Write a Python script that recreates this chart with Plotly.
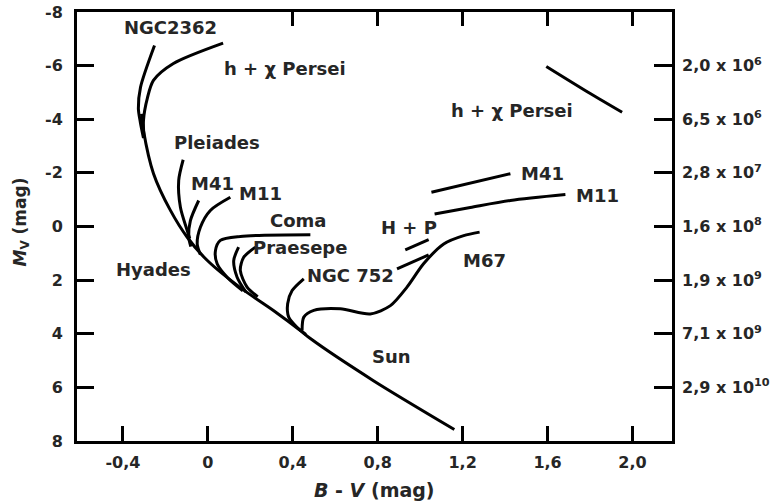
import plotly.graph_objects as go

# ---------------- data (B-V, M_V) ----------------
zams_bv = [-0.312, -0.303, -0.256, -0.176, -0.096, -0.002, 0.153, 0.309, 0.436, 0.483, 0.78, 1.161]
zams_mv = [-4.2, -3.58, -1.98, -0.60, 0.41, 1.27, 2.28, 3.13, 3.88, 4.18, 5.75, 7.57]

ngc2362_bv = [-0.303, -0.318, -0.327, -0.317, -0.251]
ngc2362_mv = [-3.3, -3.9, -4.4, -5.19, -6.75]

hx_bv = [-0.30, -0.303, -0.284, -0.256, -0.162, 0.072]
hx_mv = [-3.3, -3.96, -4.81, -5.45, -6.08, -6.84]

hx_giant_bv = [1.594, 1.801, 1.951]
hx_giant_mv = [-5.97, -4.96, -4.26]

pleiades_bv = [-0.116, -0.137, -0.129, -0.097, -0.085]
pleiades_mv = [-2.49, -1.72, -0.72, 0.15, 0.45]

m41_bv = [-0.043, -0.082, -0.090, -0.080]
m41_mv = [-0.97, -0.22, 0.40, 0.75]

m41_giant_bv = [1.053, 1.425]
m41_giant_mv = [-1.28, -1.97]

m11_bv = [0.106, 0.012, -0.035, -0.050, -0.035]
m11_mv = [-1.09, -0.60, 0.03, 0.65, 1.05]

m11_giant_bv = [1.068, 1.236, 1.425, 1.684]
m11_giant_mv = [-0.47, -0.71, -0.97, -1.19]

coma_bv = [0.483, 0.153, 0.059, 0.036, 0.044, 0.091, 0.165]
coma_mv = [0.31, 0.37, 0.52, 0.90, 1.39, 1.89, 2.40]

praesepe1_bv = [0.145, 0.122, 0.138, 0.180]
praesepe1_mv = [0.77, 1.27, 1.89, 2.45]
praesepe2_bv = [0.224, 0.169, 0.153, 0.185, 0.235]
praesepe2_mv = [0.77, 1.15, 1.64, 2.26, 2.62]

ngc752_bv = [0.452, 0.397, 0.376, 0.381, 0.420, 0.462]
ngc752_mv = [1.95, 2.39, 2.88, 3.38, 3.76, 4.03]
ngc752_giant_bv = [0.891, 1.040]
ngc752_giant_mv = [1.58, 1.06]

hp_giant_bv = [0.930, 1.040]
hp_giant_mv = [0.87, 0.49]

m67_bv = [0.444, 0.452, 0.499, 0.624, 0.765, 0.860, 0.938, 1.016, 1.111, 1.205, 1.280]
m67_mv = [3.88, 3.38, 3.13, 3.07, 3.26, 2.95, 2.26, 1.39, 0.65, 0.34, 0.21]

curves = [
    (zams_bv, zams_mv), (ngc2362_bv, ngc2362_mv), (hx_bv, hx_mv),
    (hx_giant_bv, hx_giant_mv), (pleiades_bv, pleiades_mv), (m41_bv, m41_mv),
    (m41_giant_bv, m41_giant_mv), (m11_bv, m11_mv), (m11_giant_bv, m11_giant_mv),
    (coma_bv, coma_mv), (praesepe1_bv, praesepe1_mv), (praesepe2_bv, praesepe2_mv),
    (ngc752_bv, ngc752_mv), (ngc752_giant_bv, ngc752_giant_mv),
    (hp_giant_bv, hp_giant_mv), (m67_bv, m67_mv),
]

# labels
label_text = ["NGC2362", "h + χ Persei", "h + χ Persei", "Pleiades", "M41", "M11",
              "Coma", "Praesepe", "NGC 752", "H + P", "M67", "M41", "M11",
              "Hyades", "Sun"]
label_bv = [-0.175, 0.365, 1.434, 0.043, 0.022, 0.248, 0.427, 0.436, 0.674,
            0.949, 1.305, 1.574, 1.837, -0.255, 0.864]
label_mv = [-7.43, -5.9, -4.33, -3.15, -1.6, -1.22, -0.22, 0.77, 1.83,
            0.05, 1.27, -1.97, -1.16, 1.6, 4.85]

# axes
x_ticks = [-0.4, 0, 0.4, 0.8, 1.2, 1.6, 2.0]
x_ticktext = ["-0,4", "0", "0,4", "0,8", "1,2", "1,6", "2,0"]
x_top_ticks = [0.4, 0.8, 1.2, 1.6, 2.0]
y_ticks = [-8, -6, -4, -2, 0, 2, 4, 6, 8]
y_ticktext = ["-8", "-6", "-4", "-2", "0", "2", "4", "6", "8"]
age_ticks = [-6, -4, -2, 0, 2, 4, 6]
age_text = ["2,0 x 10<sup>6</sup>", "6,5 x 10<sup>6</sup>", "2,8 x 10<sup>7</sup>",
            "1,6 x 10<sup>8</sup>", "1,9 x 10<sup>9</sup>", "7,1 x 10<sup>9</sup>",
            "2,9 x 10<sup>10</sup>"]

XR = [-0.616, 2.186]
YR = [8, -8]
FONT = "DejaVu Sans, Verdana, sans-serif"
TXT = "#262626"

fig = go.Figure()
for bx, my in curves:
    fig.add_trace(go.Scatter(x=bx, y=my, mode="lines",
                             line=dict(color="black", width=3, shape="spline", smoothing=0.8),
                             hoverinfo="skip", showlegend=False))
# dummy trace for secondary axes
fig.add_trace(go.Scatter(x=[None], y=[None], xaxis="x2", yaxis="y2", showlegend=False,
                         hoverinfo="skip"))

for t, bx, my in zip(label_text, label_bv, label_mv):
    fig.add_annotation(x=bx, y=my, text=t, showarrow=False, xref="x", yref="y",
                       font=dict(family=FONT, size=18, color=TXT, weight="bold"))

# axis titles
fig.add_annotation(x=0.5, y=0, xref="paper", yref="paper", yshift=-49, showarrow=False,
                   text="<i>B</i> - <i>V</i> (mag)", xanchor="center", yanchor="middle",
                   font=dict(family=FONT, size=19, color=TXT, weight="bold"))
fig.add_annotation(x=0, y=0.5, xref="paper", yref="paper", xshift=-56, yshift=4,
                   showarrow=False, textangle=-90,
                   text="<i>M</i><sub>V</sub> (mag)", xanchor="center", yanchor="middle",
                   font=dict(family=FONT, size=17, color=TXT, weight="bold"))

tickfont = dict(family=FONT, size=16, color=TXT, weight="bold")

fig.update_layout(
    width=773, height=501,
    margin=dict(l=77, r=101, t=12, b=60, autoexpand=False),
    paper_bgcolor="white", plot_bgcolor="white",
    showlegend=False,
    xaxis=dict(range=XR, tickvals=x_ticks, ticktext=x_ticktext, ticks="inside",
               ticklen=15, tickwidth=3, tickcolor="black", showline=True, linewidth=3,
               linecolor="black", mirror=True, showgrid=False, zeroline=False,
               tickfont=tickfont, ticklabelstandoff=5, automargin=False),
    yaxis=dict(range=YR, tickvals=y_ticks, ticktext=y_ticktext, ticks="inside",
               ticklen=17, tickwidth=3, tickcolor="black", showline=True, linewidth=3,
               linecolor="black", mirror=True, showgrid=False, zeroline=False,
               tickfont=tickfont, ticklabelstandoff=8, automargin=False),
    xaxis2=dict(range=XR, overlaying="x", side="top", anchor="y2", tickvals=x_top_ticks,
                showticklabels=False, ticks="inside", ticklen=14, tickwidth=3,
                tickcolor="black", showgrid=False, zeroline=False, showline=False,
                automargin=False),
    yaxis2=dict(range=YR, overlaying="y", side="right", anchor="x2", tickvals=age_ticks,
                ticktext=age_text, ticks="inside", ticklen=18, tickwidth=3,
                tickcolor="black", showgrid=False, zeroline=False, showline=False,
                ticklabelstandoff=9, tickfont=tickfont, automargin=False),
)

fig.write_html("out.html")
